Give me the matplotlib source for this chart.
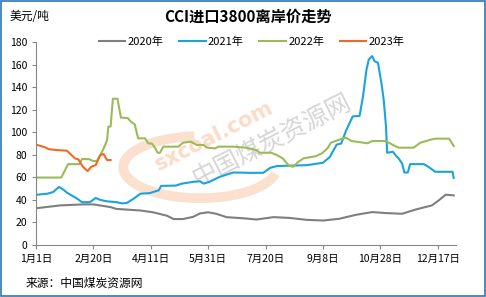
import matplotlib.pyplot as plt
from matplotlib.patches import Arc, Rectangle

plt.rcParams['font.family'] = ['Noto Sans CJK SC', 'DejaVu Sans']

# day of year -> price (USD/t)
d2020 = [1, 21, 41, 50, 65, 70, 91, 102, 114, 120, 128, 137, 143, 150, 157, 166, 183,
         192, 207, 221, 236, 250, 264, 279, 293, 305, 319, 331, 345, 351, 357, 364]
v2020 = [32.7, 35.1, 36, 36, 33.6, 32, 30.6, 29, 26, 23, 23, 25, 28, 29, 27.7, 24.7, 23.5,
         22.6, 24.7, 24, 22.3, 21.7, 23.2, 26.8, 29.2, 28.3, 27.7, 31.5, 35.1, 39.6, 44.6, 44]

d2021 = [1, 10, 15, 20, 24, 27, 31, 36, 40, 47, 52, 56, 62, 70, 75, 79, 85, 91, 99, 107,
         109, 122, 127, 137, 143, 146, 151, 160, 172, 186, 198, 204, 210, 236, 250, 256,
         262, 266, 270, 276, 282, 285, 288, 290, 293, 295, 298, 301, 303, 305, 306, 311,
         314, 316, 319, 321, 324, 326, 338, 342, 348, 363, 364]
v2021 = [44.6, 45.5, 47, 51.5, 49, 46.4, 44, 41, 38, 38, 41.7, 40, 38.7, 38, 36.9, 37.2,
         41, 45.5, 46, 48.5, 52.4, 52.7, 54.4, 56, 56.5, 54.4, 56, 60.4, 64.3, 64, 64,
         68.4, 70, 70.8, 72.9, 78, 89, 90, 101, 114, 114.5, 132, 155.6, 164.5, 167.5, 163,
         161.5, 143.7, 128.8, 105, 81.8, 82.7, 78.8, 76.8, 72.3, 64.3, 64.3, 71.7, 71.7,
         69.3, 64.9, 64.9, 59.5]

d2022 = [1, 22, 28, 38, 40, 46, 50, 53, 56, 59, 62, 63, 65, 67, 71, 74, 80, 83, 86, 89,
         95, 98, 101, 104, 106, 108, 111, 124, 128, 135, 140, 146, 149, 156, 159, 172,
         183, 192, 195, 205, 210, 215, 220, 224, 228, 233, 244, 249, 254, 257, 263, 270,
         275, 289, 293, 305, 311, 316, 329, 335, 345, 348, 360, 364]
v2022 = [59.8, 59.8, 71.7, 71.7, 76.2, 76.2, 74.4, 74.4, 79.7, 85.7, 93, 105, 105, 129.7,
         129.7, 113, 112.5, 109, 107, 94.6, 94.6, 90, 90, 85.7, 81.8, 81.8, 87.2, 87.2,
         90.7, 91.6, 88.7, 88.7, 86.3, 85.7, 87.2, 87.2, 86.3, 84.2, 81.8, 81.8, 79.7,
         76.8, 70.8, 69.3, 73.2, 76.8, 78.8, 81.2, 85.7, 90.7, 93, 95.2, 92.2, 90.2, 92.2,
         92.2, 88.7, 86.3, 86.3, 90.7, 93.7, 94.3, 94.3, 87.8]

d2023 = [1, 8, 11, 18, 27, 31, 34, 37, 39, 41, 45, 48, 52, 54, 56, 59, 61, 62, 65]
v2023 = [88.7, 86.6, 85, 84.2, 83.6, 79.7, 76.8, 75.9, 72.3, 69.3, 65.5, 69.3, 70.8,
         75.3, 79.7, 80.6, 76.8, 75.3, 75.3]

tick_days = [0, 50, 100, 150, 200, 250, 300, 350]
tick_labels = ['1月1日', '2月20日', '4月11日', '5月31日', '7月20日', '9月8日', '10月28日', '12月17日']

fig = plt.figure(figsize=(4.86, 2.97), dpi=100)
ax = fig.add_axes([36 / 486, 52 / 297, 420 / 486, 203 / 297])

# faint watermark
arc = Arc((143, 69), 134, 55, theta1=100, theta2=355, color='#FCE0CF', lw=7, zorder=0)
ax.add_patch(arc)
ax.text(155, 97, 'sxcoal.com', color='#FCDCC8', fontsize=15, fontweight='bold',
        rotation=27, ha='center', va='center', zorder=0, family='DejaVu Sans')
ax.text(206, 92, '中国煤炭资源网', color='#D6D6D6', fontsize=18, rotation=27,
        ha='center', va='center', zorder=0)

ax.plot(d2020, v2020, color='#7F7F7F', lw=1.5, label='2020年')
ax.plot(d2021, v2021, color='#1AA3DC', lw=1.5, label='2021年')
ax.plot(d2022, v2022, color='#9BBB59', lw=1.5, label='2022年')
ax.plot(d2023, v2023, color='#F26A21', lw=1.5, label='2023年')

ax.set_xlim(0, 366)
ax.set_ylim(0, 180)
ax.set_yticks(range(0, 181, 20))
ax.set_xticks(tick_days)
ax.set_xticklabels(tick_labels)
for s in ['top', 'right']:
    ax.spines[s].set_visible(False)
for s in ['left', 'bottom']:
    ax.spines[s].set_color('#868686')
ax.tick_params(labelsize=7.5, color='#868686', length=3)

ax.legend(loc='center', bbox_to_anchor=(0.513, 1.0), ncol=4, frameon=False,
          fontsize=8, handlelength=2.4, columnspacing=1.4, handletextpad=0.2)

fig.text(0.51, 0.943, 'CCI进口3800离岸价走势', ha='center', va='center', fontsize=11,
         fontweight='bold')
fig.text(0.02, 0.943, '美元/吨', ha='left', va='center', fontsize=8.5)
fig.text(0.052, 0.047, '来源：中国煤炭资源网', ha='left', va='center', fontsize=8.5)

fig.patches.append(Rectangle((0.002, 0.003), 0.995, 0.992, transform=fig.transFigure,
                             fill=False, edgecolor='#2E75B6', lw=1.2))

fig.savefig('out.png', dpi=100)
